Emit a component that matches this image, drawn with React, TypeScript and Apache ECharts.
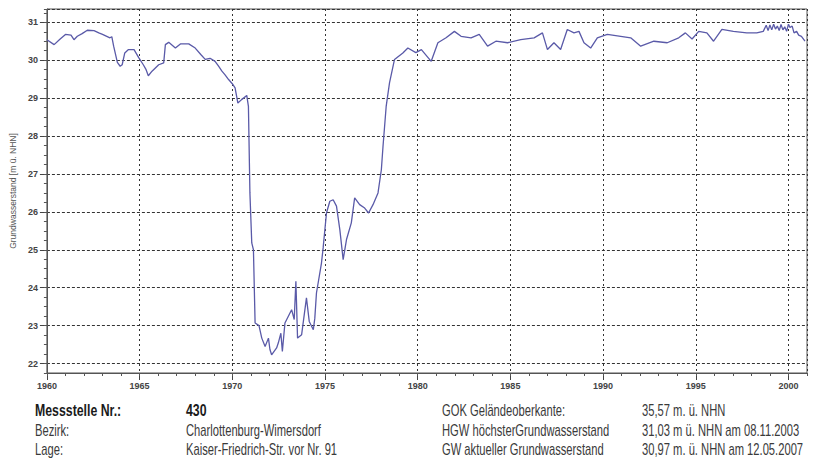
import React, { useEffect, useRef } from "react";
import * as echarts from "echarts";

// Decimal years and groundwater levels [m ü. NHN]
const years = [
  1960.0, 1960.39, 1960.7, 1961.0, 1961.3, 1961.46, 1961.64, 1961.9, 1962.18, 1962.54,
  1962.8, 1963.0, 1963.4, 1963.5, 1963.6, 1963.8, 1963.95, 1964.06, 1964.2, 1964.4,
  1964.7, 1964.96, 1965.2, 1965.35, 1965.47, 1965.67, 1966.03, 1966.3, 1966.39, 1966.57,
  1966.93, 1967.2, 1967.65, 1968.0, 1968.3, 1968.54, 1968.8, 1969.07, 1969.25, 1969.44,
  1969.6, 1969.8, 1970.0, 1970.15, 1970.3, 1970.5, 1970.78, 1970.87, 1970.95, 1971.05,
  1971.14, 1971.23, 1971.44, 1971.59, 1971.77, 1971.95, 1972.03, 1972.12, 1972.39, 1972.48,
  1972.62, 1972.7, 1972.84, 1973.2, 1973.34, 1973.43, 1973.52, 1973.74, 1974.0, 1974.15,
  1974.37, 1974.45, 1974.54, 1974.81, 1974.9, 1975.08, 1975.26, 1975.44, 1975.62, 1975.8,
  1975.98, 1976.16, 1976.42, 1976.6, 1976.87, 1977.14, 1977.35, 1977.59, 1977.86, 1978.04,
  1978.13, 1978.3, 1978.48, 1978.75, 1979.2, 1979.47, 1979.9, 1980.2, 1980.73, 1981.09,
  1981.53, 1981.98, 1982.34, 1982.88, 1983.32, 1983.77, 1984.22, 1984.85, 1985.56, 1986.28,
  1986.73, 1987.0, 1987.35, 1987.71, 1988.07, 1988.43, 1988.7, 1988.97, 1989.33, 1989.69,
  1990.23, 1990.95, 1991.49, 1992.03, 1992.74, 1993.46, 1994.08, 1994.44, 1994.8, 1995.16,
  1995.6, 1995.96, 1996.41, 1997.03, 1997.75, 1998.29, 1998.64, 1998.8, 1998.9, 1999.0,
  1999.1, 1999.2, 1999.3, 1999.4, 1999.5, 1999.6, 1999.7, 1999.8, 1999.9, 2000.0,
  2000.08, 2000.2, 2000.3, 2000.44, 2000.55, 2000.7, 2000.89,
];

const levels = [
  30.54, 30.41, 30.55, 30.68, 30.66, 30.54, 30.63, 30.7, 30.79, 30.78,
  30.72, 30.68, 30.59, 30.62, 30.37, 29.94, 29.84, 29.88, 30.19, 30.28,
  30.28, 30.06, 29.88, 29.75, 29.59, 29.71, 29.88, 29.93, 30.41, 30.47,
  30.32, 30.43, 30.43, 30.32, 30.15, 30.02, 30.05, 29.97, 29.85, 29.71,
  29.62, 29.49, 29.38, 29.27, 28.87, 28.96, 29.07, 28.78, 26.5, 25.18,
  25.0, 23.07, 23.0, 22.67, 22.45, 22.67, 22.37, 22.23, 22.41, 22.54,
  22.8, 22.32, 23.07, 23.42, 23.16, 24.17, 22.67, 22.76, 23.73, 23.11,
  22.89, 23.19, 23.86, 24.65, 25.05, 25.97, 26.28, 26.32, 26.15, 25.53,
  24.74, 25.27, 25.71, 26.37, 26.19, 26.1, 25.97, 26.19, 26.5, 27.11,
  27.73, 28.78, 29.4, 30.02, 30.19, 30.32, 30.2, 30.28, 29.97, 30.46,
  30.59, 30.76, 30.63, 30.59, 30.68, 30.37, 30.5, 30.46, 30.54, 30.59,
  30.72, 30.28, 30.46, 30.28, 30.81, 30.72, 30.76, 30.46, 30.32, 30.59,
  30.68, 30.63, 30.59, 30.37, 30.5, 30.46, 30.59, 30.72, 30.56, 30.76,
  30.72, 30.5, 30.81, 30.76, 30.72, 30.72, 30.76, 30.92, 30.78, 30.93,
  30.8, 30.95, 30.82, 30.9, 30.78, 30.94, 30.8, 30.88, 30.76, 30.95,
  30.86, 30.9, 30.72, 30.76, 30.66, 30.63, 30.5,
];

const yAxisTitle = "Grundwasserstand [m ü. NHN]";

const infoLabelsLeft = ["Messstelle Nr.:", "Bezirk:", "Lage:"];
const infoValuesLeft = ["430", "Charlottenburg-Wimersdorf", "Kaiser-Friedrich-Str. vor Nr. 91"];
const infoLabelsRight = [
  "GOK Geländeoberkante:",
  "HGW höchsterGrundwasserstand",
  "GW aktueller Grundwasserstand",
];
const infoValuesRight = [
  "35,57 m. ü. NHN",
  "31,03 m ü. NHN am 08.11.2003",
  "30,97 m. ü. NHN am 12.05.2007",
];

const SANS = "'Liberation Sans', Arial, sans-serif";

export default function App() {
  const ref = useRef<HTMLDivElement>(null);

  useEffect(() => {
    if (!ref.current) return;
    const chart = echarts.init(ref.current, null, { renderer: "svg" });

    const data = years.map((y, i) => [y, levels[i]]);
    const rowY = [410, 430, 449];

    const texts: any[] = [];
    const addCol = (arr: string[], x: number, boldFirst: boolean) => {
      arr.forEach((t, i) => {
        const bold = boldFirst && i === 0;
        texts.push({
          type: "text",
          x,
          y: rowY[i],
          scaleX: bold ? 0.77 : 0.7,
          style: {
            text: t,
            font: `${bold ? "bold " : ""}16px ${SANS}`,
            fill: bold ? "#1a1a1a" : "#3a3a3a",
            align: "left",
            verticalAlign: "middle",
          },
        });
      });
    };
    addCol(infoLabelsLeft, 35, true);
    addCol(infoValuesLeft, 186, true);
    addCol(infoLabelsRight, 442, false);
    addCol(infoValuesRight, 642, false);

    const labelStyle = {
      fontSize: 9,
      fontFamily: SANS,
      fontWeight: "bold" as const,
      color: "#444",
    };

    chart.setOption({
      animation: false,
      backgroundColor: "#ffffff",
      grid: {
        left: 45,
        right: 12,
        top: 9,
        bottom: 93,
        show: true,
        borderColor: "#555",
        borderWidth: 1,
        backgroundColor: "transparent",
      },
      xAxis: [
        {
          type: "value",
          min: 1960,
          max: 2001,
          interval: 5,
          position: "bottom",
          axisLine: { show: true, lineStyle: { color: "#555", width: 1 } },
          axisTick: { show: true, length: 7, lineStyle: { color: "#444" } },
          axisLabel: {
            ...labelStyle,
            margin: 8,
            showMaxLabel: false,
            formatter: (v: number) => (Number.isInteger(v) ? String(v) : ""),
          },
          splitLine: { show: true, lineStyle: { color: "#333", type: [2, 3], width: 1 } },
        },
        {
          type: "value",
          min: 1960,
          max: 2001,
          interval: 1,
          position: "bottom",
          axisLine: { show: false },
          axisTick: { show: true, length: 3, lineStyle: { color: "#555" } },
          axisLabel: { show: false },
          splitLine: { show: false },
        },
      ],
      yAxis: [
        {
          type: "value",
          min: 21.75,
          max: 31.35,
          splitNumber: 10,
          position: "left",
          name: yAxisTitle,
          nameLocation: "middle",
          nameGap: 25,
          nameTextStyle: { fontSize: 8.5, color: "#555", fontFamily: SANS },
          axisLine: { show: true, lineStyle: { color: "#555", width: 1 } },
          axisTick: { show: true, length: 7, lineStyle: { color: "#444" } },
          axisLabel: {
            ...labelStyle,
            margin: 9,
            showMinLabel: false,
            showMaxLabel: false,
            formatter: (v: number) => (Number.isInteger(v) ? String(v) : ""),
          },
          splitLine: { show: true, lineStyle: { color: "#333", type: [3, 2], width: 1 } },
        },
        {
          type: "value",
          min: 21.75,
          max: 31.35,
          interval: 0.25,
          position: "left",
          axisLine: { show: false },
          axisTick: { show: true, length: 3, lineStyle: { color: "#555" } },
          axisLabel: { show: false },
          splitLine: { show: false },
        },
      ],
      series: [
        {
          type: "line",
          xAxisIndex: 0,
          yAxisIndex: 0,
          data,
          showSymbol: false,
          symbol: "none",
          lineStyle: { color: "#5a5aa8", width: 1.3 },
          z: 5,
        },
      ],
      graphic: texts,
    });

    return () => chart.dispose();
  }, []);

  return <div ref={ref} style={{ width: 819, height: 466, margin: -8 }} />;
}
